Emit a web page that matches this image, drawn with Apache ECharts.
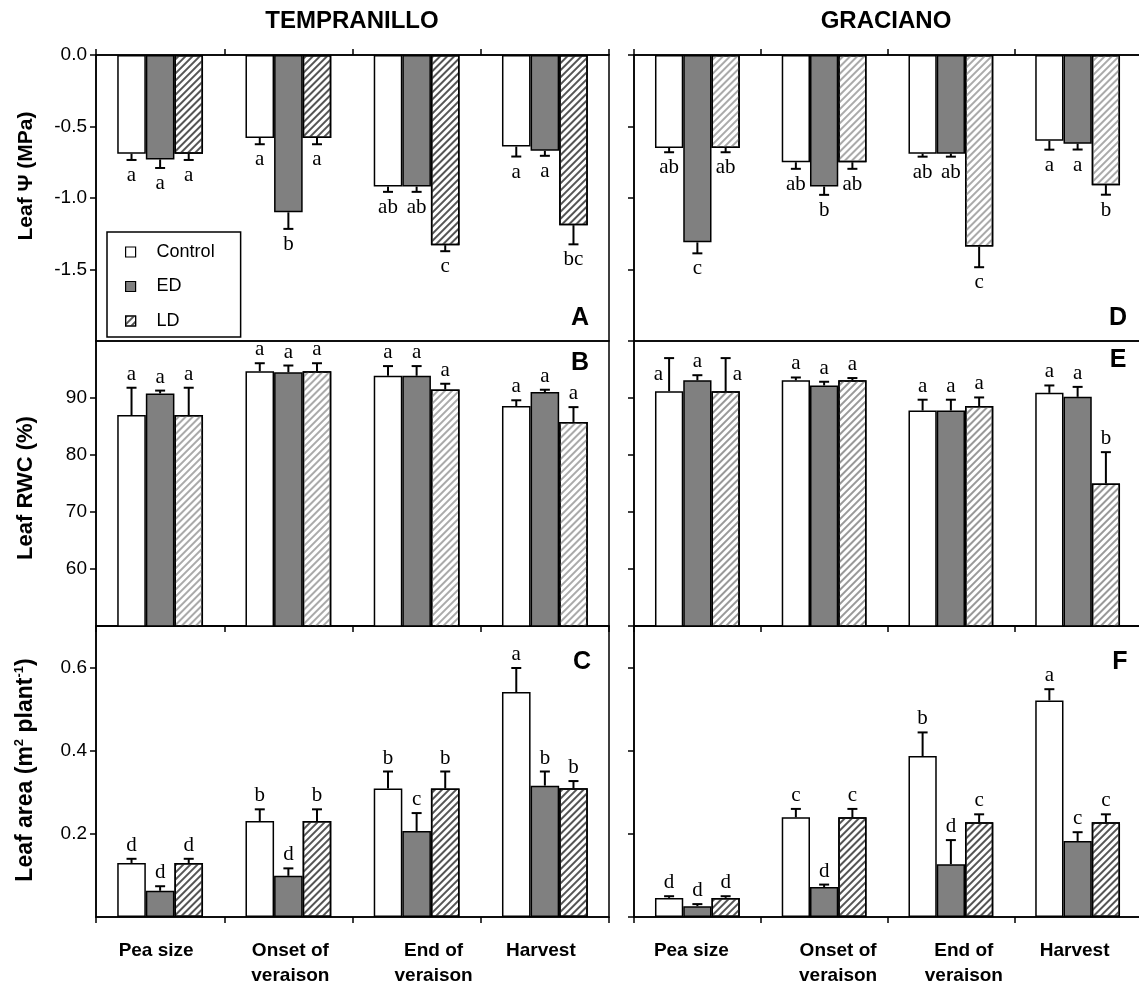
<!DOCTYPE html>
<html><head><meta charset="utf-8">
<script src="https://cdn.jsdelivr.net/npm/echarts@6/dist/echarts.min.js"></script>
<style>html,body{margin:0;padding:0;background:#fff;overflow:hidden}#c{width:1139px;height:983px}</style>
</head><body><div id="c"></div>
<script>
// ---------------- data ----------------
const categories = ['Pea size', 'Onset of\nveraison', 'End of\nveraison', 'Harvest'];
const treatments = ['Control', 'ED', 'LD'];
const cultivars = ['TEMPRANILLO', 'GRACIANO'];

// A: Tempranillo leaf water potential (MPa)  rows: Control, ED, LD
const psiTempMean = [[-0.69, -0.58, -0.92, -0.64], [-0.73, -1.10, -0.92, -0.67], [-0.69, -0.58, -1.33, -1.19]];
const psiTempErr  = [[0.044, 0.044, 0.037, 0.07], [0.06, 0.116, 0.037, 0.035], [0.044, 0.044, 0.042, 0.134]];
const psiTempSig  = [['a', 'a', 'ab', 'a'], ['a', 'b', 'ab', 'a'], ['a', 'a', 'c', 'bc']];

// D: Graciano leaf water potential (MPa)
const psiGracMean = [[-0.65, -0.75, -0.69, -0.60], [-1.31, -0.92, -0.69, -0.62], [-0.65, -0.75, -1.34, -0.91]];
const psiGracErr  = [[0.03, 0.046, 0.021, 0.062], [0.077, 0.058, 0.021, 0.041], [0.03, 0.046, 0.144, 0.067]];
const psiGracSig  = [['ab', 'ab', 'ab', 'a'], ['c', 'b', 'ab', 'a'], ['ab', 'ab', 'c', 'b']];

// B: Tempranillo leaf RWC (%)
const rwcTempMean = [[87.0, 94.7, 93.9, 88.6], [90.8, 94.5, 93.9, 91.05], [87.0, 94.7, 91.5, 85.8]];
const rwcTempErr  = [[4.8, 1.4, 1.7, 1.0], [0.5, 1.2, 1.7, 0.4], [4.8, 1.4, 1.0, 2.6]];
const rwcTempSig  = [['a', 'a', 'a', 'a'], ['a', 'a', 'a', 'a'], ['a', 'a', 'a', 'a']];

// E: Graciano leaf RWC (%)
const rwcGracMean = [[91.2, 93.1, 87.8, 90.9], [93.1, 92.2, 87.8, 90.2], [91.2, 93.1, 88.6, 75.0]];
const rwcGracErr  = [[5.8, 0.5, 1.9, 1.3], [0.9, 0.65, 1.9, 1.75], [5.8, 0.4, 1.5, 5.5]];
const rwcGracSig  = [['a', 'a', 'a', 'a'], ['a', 'a', 'a', 'a'], ['a', 'a', 'a', 'b']];

// C: Tempranillo leaf area (m2 plant-1)
const areaTempMean = [[0.130, 0.231, 0.309, 0.541], [0.063, 0.099, 0.207, 0.316], [0.130, 0.231, 0.309, 0.310]];
const areaTempErr  = [[0.010, 0.028, 0.041, 0.058], [0.011, 0.018, 0.043, 0.034], [0.010, 0.028, 0.041, 0.017]];
const areaTempSig  = [['d', 'b', 'b', 'a'], ['d', 'd', 'c', 'b'], ['d', 'b', 'b', 'b']];

// F: Graciano leaf area (m2 plant-1)
const areaGracMean = [[0.046, 0.240, 0.387, 0.521], [0.026, 0.072, 0.127, 0.183], [0.046, 0.240, 0.228, 0.228]];
const areaGracErr  = [[0.004, 0.020, 0.057, 0.027], [0.005, 0.006, 0.058, 0.021], [0.004, 0.020, 0.019, 0.019]];
const areaGracSig  = [['d', 'c', 'b', 'a'], ['d', 'd', 'd', 'c'], ['d', 'c', 'c', 'c']];

// axis tick settings
const psiAxis = {min: -2, max: 0, interval: 0.5};
const rwcAxis = {min: 50, max: 100, interval: 10};
const areaAxis = {min: 0, max: 0.7, interval: 0.2};

// ---------------- layout / style ----------------
const BAR_FRAC = 0.223;
const cols = [{left: 96, right: 530}, {left: 634, right: -2}];
const rows = [{top: 55, height: 286}, {top: 341, height: 285}, {top: 626, height: 291}];
const FONT = '"Liberation Sans", Arial, sans-serif';
const SERIF = '"Liberation Serif", "Times New Roman", serif';
const catShift = [[-4, 2, 17, -4], [-6, 14, 13, -3]];

const panels = [
  {key: 'A', row: 0, col: 0, mean: psiTempMean, err: psiTempErr, sig: psiTempSig, ax: psiAxis, dec: 1, hatch: '#555', showMax: true},
  {key: 'B', row: 1, col: 0, mean: rwcTempMean, err: rwcTempErr, sig: rwcTempSig, ax: rwcAxis, dec: 0, hatch: '#aaa', showMax: false},
  {key: 'C', row: 2, col: 0, mean: areaTempMean, err: areaTempErr, sig: areaTempSig, ax: areaAxis, dec: 1, hatch: '#555', showMax: false},
  {key: 'D', row: 0, col: 1, mean: psiGracMean, err: psiGracErr, sig: psiGracSig, ax: psiAxis, dec: 1, hatch: '#aaa', showMax: true},
  {key: 'E', row: 1, col: 1, mean: rwcGracMean, err: rwcGracErr, sig: rwcGracSig, ax: rwcAxis, dec: 0, hatch: '#999', showMax: false},
  {key: 'F', row: 2, col: 1, mean: areaGracMean, err: areaGracErr, sig: areaGracSig, ax: areaAxis, dec: 1, hatch: '#555', showMax: false}
];
// letters that sit beside the error bar instead of beyond it
const sideLetters = {'E:0:0': 'left', 'E:2:0': 'right'};

const barFill = ['#ffffff', '#808080', '#ffffff'];

const grid = [], xAxis = [], yAxis = [], series = [];
panels.forEach((p, gi) => {
  const c = cols[p.col], r = rows[p.row];
  grid.push({left: c.left, right: c.right, top: r.top, height: r.height, show: true,
    borderColor: '#000', borderWidth: 1.5, backgroundColor: 'transparent', containLabel: false,
    outerBoundsMode: 'none'});
  const rich = {};
  catShift[p.col].forEach((s, i) => {
    rich['s' + i] = {fontFamily: FONT, fontWeight: 'bold', fontSize: 19, color: '#000', lineHeight: 25,
      padding: s >= 0 ? [0, 0, 0, 2 * s] : [0, -2 * s, 0, 0]};
  });
  xAxis.push({type: 'category', gridIndex: gi, data: categories,
    position: p.row === 0 ? 'top' : 'bottom',
    axisLine: {show: true, onZero: false, lineStyle: {color: '#000', width: 1.5}},
    axisTick: {show: true, length: 6, lineStyle: {color: '#000', width: 1.5}},
    axisLabel: {show: p.row === 2, margin: 21, interval: 0,
      formatter: (v, i) => v.split('\n').map(l => '{s' + i + '|' + l + '}').join('\n'), rich},
    splitLine: {show: false}});
  yAxis.push({type: 'value', gridIndex: gi, min: p.ax.min, max: p.ax.max, interval: p.ax.interval,
    axisLine: {show: true, lineStyle: {color: '#000', width: 1.5}},
    axisTick: {show: true, length: 6, lineStyle: {color: '#000', width: 1.5}},
    axisLabel: {show: p.col === 0, fontSize: 19, color: '#000', fontFamily: FONT, margin: 9,
      showMinLabel: false, showMaxLabel: p.showMax, formatter: v => v.toFixed(p.dec)},
    splitLine: {show: false}});
  treatments.forEach((t, ti) => {
    const st = {color: barFill[ti], borderColor: '#000', borderWidth: 1.5};
    if (ti === 2) st.decal = {symbol: 'rect', symbolSize: 1, dashArrayX: [1, 0], dashArrayY: [2, 3],
      rotation: -Math.PI / 4, color: p.hatch};
    series.push({type: 'bar', name: t, xAxisIndex: gi, yAxisIndex: gi, data: p.mean[ti],
      barWidth: (BAR_FRAC * 100) + '%', barGap: '0%', itemStyle: st, silent: true, z: 2});
  });
  const data = [];
  for (let ti = 0; ti < 3; ti++) for (let ci = 0; ci < 4; ci++) data.push([ci, p.mean[ti][ci], ti, p.err[ti][ci]]);
  series.push({type: 'custom', xAxisIndex: gi, yAxisIndex: gi, z: 10, silent: true, data,
    encode: {x: 0, y: 1},
    renderItem: (params, api) => {
      const ci = api.value(0), v = api.value(1), ti = api.value(2), e = api.value(3);
      const cw = api.size([1, 0])[0];
      const bw = cw * BAR_FRAC;
      const base = api.coord([ci, v]);
      const x = base[0] + (ti - 1) * bw;
      const yBar = base[1];
      const pos = v >= 0;
      const yEnd = api.coord([ci, pos ? v + e : v - e])[1];
      const letter = p.sig[ti][ci];
      const side = sideLetters[p.key + ':' + ti + ':' + ci];
      let txt;
      if (side) {
        txt = {x: side === 'left' ? x - 6 : x + 7, y: (yBar + yEnd) / 2, align: side === 'left' ? 'right' : 'left', verticalAlign: 'middle'};
      } else if (pos) {
        txt = {x: x, y: yEnd - 3, align: 'center', verticalAlign: 'bottom'};
      } else {
        txt = {x: x, y: yEnd + 5, align: 'center', verticalAlign: 'top'};
      }
      return {type: 'group', children: [
        {type: 'line', shape: {x1: x, y1: yBar, x2: x, y2: yEnd}, style: {stroke: '#000', lineWidth: 2}},
        {type: 'line', shape: {x1: x - 5, y1: yEnd, x2: x + 5, y2: yEnd}, style: {stroke: '#000', lineWidth: 2}},
        {type: 'text', style: Object.assign({text: letter, font: '21px ' + SERIF, fill: '#000'}, txt)}
      ]};
    }});
});

const graphic = [
  {type: 'text', x: 352, y: 21, style: {text: cultivars[0], font: 'bold 24px ' + FONT, fill: '#000', align: 'center', verticalAlign: 'middle'}},
  {type: 'text', x: 886, y: 21, style: {text: cultivars[1], font: 'bold 24px ' + FONT, fill: '#000', align: 'center', verticalAlign: 'middle'}},
  {type: 'text', x: 26, y: 176, rotation: Math.PI / 2, style: {text: 'Leaf \u03A8 (MPa)', font: 'bold 21px ' + FONT, fill: '#000', align: 'center', verticalAlign: 'middle'}},
  {type: 'text', x: 26, y: 488, rotation: Math.PI / 2, style: {text: 'Leaf RWC (%)', font: 'bold 22px ' + FONT, fill: '#000', align: 'center', verticalAlign: 'middle'}},
  {type: 'text', x: 26, y: 770, rotation: Math.PI / 2, style: {
    text: '{n|Leaf area (m}{s|2}{n| plant}{s|-1}{n|)}', align: 'center', verticalAlign: 'middle',
    rich: {n: {fontFamily: FONT, fontWeight: 'bold', fontSize: 23, color: '#000', lineHeight: 27},
           s: {fontFamily: FONT, fontWeight: 'bold', fontSize: 13, color: '#000', verticalAlign: 'top', lineHeight: 14}}}}
];
const letterPos = {A: [580, 318], B: [580, 363], C: [582, 662], D: [1118, 318], E: [1118, 360], F: [1120, 662]};
Object.keys(letterPos).forEach(k => graphic.push({type: 'text', x: letterPos[k][0], y: letterPos[k][1],
  style: {text: k, font: 'bold 25px ' + FONT, fill: '#000', align: 'center', verticalAlign: 'middle'}, z: 20}));

const chart = echarts.init(document.getElementById('c'), null, {renderer: 'canvas'});
chart.setOption({
  animation: false,
  backgroundColor: '#fff',
  grid, xAxis, yAxis, series, graphic,
  legend: {data: treatments, orient: 'vertical', left: 107, top: 232, selectedMode: false,
    borderColor: '#000', borderWidth: 1.5, backgroundColor: '#fff', padding: [11, 26, 7, 18],
    itemWidth: 10, itemHeight: 10, itemGap: 16.5, icon: 'rect', z: 15,
    itemStyle: {borderColor: '#000', borderWidth: 1.2},
    textStyle: {fontSize: 18, fontFamily: FONT, color: '#000', padding: [0, 0, 0, 16]}}
});
</script>
</body></html>
